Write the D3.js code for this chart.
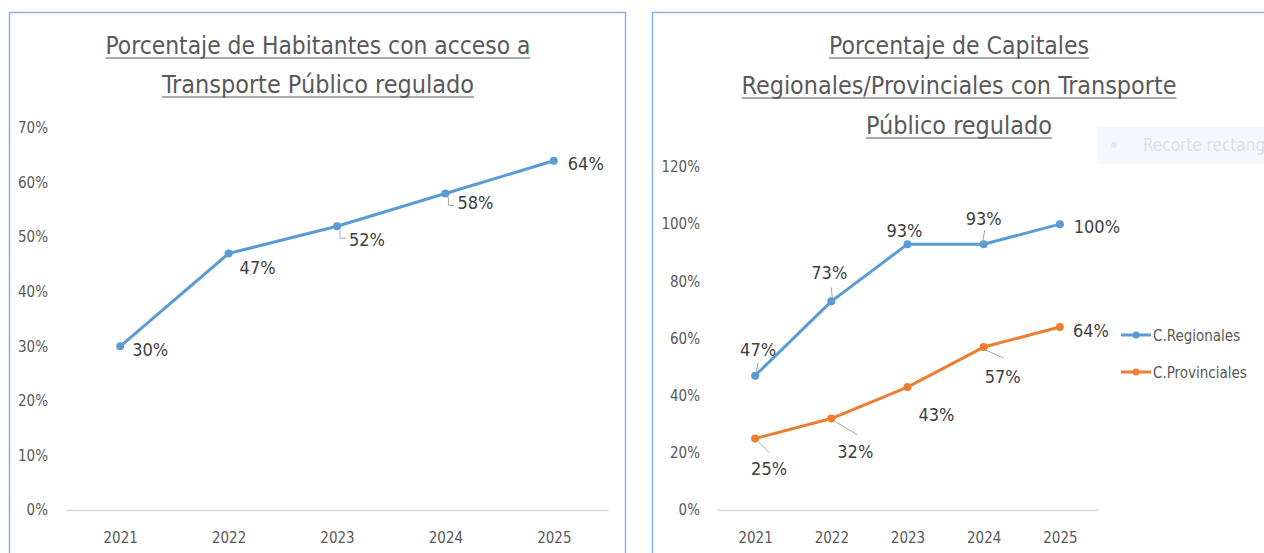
<!DOCTYPE html>
<html>
<head>
<meta charset="utf-8">
<script src="https://cdn.jsdelivr.net/npm/d3@7"></script>
<style>
  body { margin: 0; background: #fff; }
  text { font-family: "Liberation Sans Narrow", "DejaVu Sans Condensed", "Open Sans", sans-serif; }
</style>
</head>
<body>
<script>
// data
var years = ["2021", "2022", "2023", "2024", "2025"];
var habitantes = [0.30, 0.47, 0.52, 0.58, 0.64];
var regionales = [0.47, 0.73, 0.93, 0.93, 1.00];
var provinciales = [0.25, 0.32, 0.43, 0.57, 0.64];
var leftTicks = [0, 0.1, 0.2, 0.3, 0.4, 0.5, 0.6, 0.7];
var rightTicks = [0, 0.2, 0.4, 0.6, 0.8, 1.0, 1.2];
var seriesNames = ["C.Regionales", "C.Provinciales"];

var blue = "#5b9bd5", orange = "#ed7d31", grey = "#595959", labelGrey = "#404040";
var fmt = d3.format(".0%");

var svg = d3.select("body").append("svg")
    .attr("width", 1264)
    .attr("height", 553);

// panel frames
svg.append("rect").attr("x", 9.5).attr("y", 12.5).attr("width", 616).attr("height", 560)
    .attr("fill", "#fff").attr("stroke", "#8db4e2").attr("stroke-width", 1.5);
svg.append("rect").attr("x", 652.5).attr("y", 12.5).attr("width", 640).attr("height", 560)
    .attr("fill", "#fff").attr("stroke", "#8db4e2").attr("stroke-width", 1.5);

// underlined title lines
function title(lines, cx, y0, step, widths) {
    lines.forEach(function(t, i) {
        svg.append("text")
            .attr("x", cx).attr("y", y0 + i * step)
            .attr("text-anchor", "middle")
            .attr("font-size", 25)
            .attr("fill", grey)
            .attr("textLength", widths[i])
            .attr("lengthAdjust", "spacingAndGlyphs")
            .text(t);
        svg.append("line")
            .attr("x1", cx - widths[i] / 2).attr("x2", cx + widths[i] / 2)
            .attr("y1", y0 + i * step + 4).attr("y2", y0 + i * step + 4)
            .attr("stroke", grey).attr("stroke-width", 1.2);
    });
}

title(["Porcentaje de Habitantes con acceso a", "Transporte Público regulado"], 318, 54, 39, [425, 312]);
title(["Porcentaje de Capitales", "Regionales/Provinciales con Transporte", "Público regulado"], 959, 54, 40, [260, 435, 186]);

function styleAxis(g, keepDomain) {
    if (keepDomain) g.select(".domain").attr("stroke", "#d9d9d9").attr("stroke-width", 1.5);
    else g.select(".domain").remove();
    g.selectAll("text").attr("font-size", 15).attr("fill", grey)
        .style("font-family", "Liberation Sans Narrow, DejaVu Sans Condensed, sans-serif");
}

// ---------- left chart ----------
var xL = d3.scalePoint().domain(years).range([66, 608]).padding(0.5),
    yL = d3.scaleLinear().domain([0, 0.7]).range([510, 128]);

var gL = svg.append("g");

gL.append("g")
    .attr("transform", "translate(0,510)")
    .call(d3.axisBottom(xL).tickSize(0).tickPadding(22))
    .call(styleAxis, true);

gL.append("g")
    .attr("transform", "translate(48,0)")
    .call(d3.axisLeft(yL).tickValues(leftTicks).tickFormat(fmt).tickSize(0).tickPadding(0))
    .call(styleAxis, false);

var lineL = d3.line()
    .x(function(d, i) { return xL(years[i]); })
    .y(function(d) { return yL(d); });

gL.append("path").datum(habitantes)
    .attr("fill", "none").attr("stroke", blue).attr("stroke-width", 3)
    .attr("stroke-linejoin", "round")
    .attr("d", lineL);

// label offsets (dx, dy to baseline) and leader flags
var offL = [[12, 10], [11, 20], [12, 20], [12, 16], [14, 9]];
var leadL = [false, false, true, true, false];

var ptsL = habitantes.map(function(v, i) {
    return {v: v, x: xL(years[i]), y: yL(v), off: offL[i], lead: leadL[i]};
});

gL.selectAll(".pt").data(ptsL).enter().append("circle")
    .attr("cx", function(d) { return d.x; })
    .attr("cy", function(d) { return d.y; })
    .attr("r", 4).attr("fill", blue);

gL.selectAll(".lead").data(ptsL.filter(function(d) { return d.lead; })).enter()
    .append("path")
    .attr("d", function(d) {
        return "M" + (d.x + 3) + "," + (d.y + 4) + "V" + (d.y + 12) + "H" + (d.x + 9);
    })
    .attr("fill", "none").attr("stroke", "#a6a6a6").attr("stroke-width", 1);

gL.selectAll(".lbl").data(ptsL).enter().append("text")
    .attr("x", function(d) { return d.x + d.off[0]; })
    .attr("y", function(d) { return d.y + d.off[1]; })
    .attr("font-size", 18).attr("fill", labelGrey)
    .text(function(d) { return fmt(d.v); });

// ---------- right chart ----------
var xR = d3.scalePoint().domain(years).range([717, 1098]).padding(0.5),
    yR = d3.scaleLinear().domain([0, 1.2]).range([510, 167]);

var gR = svg.append("g");

gR.append("g")
    .attr("transform", "translate(0,510)")
    .call(d3.axisBottom(xR).tickSize(0).tickPadding(22))
    .call(styleAxis, true);

gR.append("g")
    .attr("transform", "translate(700,0)")
    .call(d3.axisLeft(yR).tickValues(rightTicks).tickFormat(fmt).tickSize(0).tickPadding(0))
    .call(styleAxis, false);

var lineR = d3.line()
    .x(function(d, i) { return xR(years[i]); })
    .y(function(d) { return yR(d); });

var seriesR = [
    {values: regionales, color: blue,
     off: [[3, -20], [-2, -22], [-3, -7], [0, -19], [37, 9]],
     lead: [[3, -13, 1, -3], [0, -14, 1, -3], null, [1, -14, -1, -2], null]},
    {values: provinciales, color: orange,
     off: [[14, 36], [24, 39], [29, 34], [19, 36], [31, 10]],
     lead: [[2, 2, 14, 14], [2, 2, 26, 16], null, [2, 3, 20, 11], null]}
];

seriesR.forEach(function(s) {
    var pts = s.values.map(function(v, i) {
        return {v: v, x: xR(years[i]), y: yR(v), off: s.off[i], lead: s.lead[i]};
    });

    gR.append("path").datum(s.values)
        .attr("fill", "none").attr("stroke", s.color).attr("stroke-width", 3)
        .attr("stroke-linejoin", "round")
        .attr("d", lineR);

    gR.selectAll(null).data(pts).enter().append("circle")
        .attr("cx", function(d) { return d.x; })
        .attr("cy", function(d) { return d.y; })
        .attr("r", 4).attr("fill", s.color);

    gR.selectAll(null).data(pts.filter(function(d) { return d.lead; })).enter()
        .append("line")
        .attr("x1", function(d) { return d.x + d.lead[0]; })
        .attr("y1", function(d) { return d.y + d.lead[1]; })
        .attr("x2", function(d) { return d.x + d.lead[2]; })
        .attr("y2", function(d) { return d.y + d.lead[3]; })
        .attr("stroke", "#a6a6a6").attr("stroke-width", 1);

    gR.selectAll(null).data(pts).enter().append("text")
        .attr("x", function(d) { return d.x + d.off[0]; })
        .attr("y", function(d) { return d.y + d.off[1]; })
        .attr("text-anchor", "middle")
        .attr("font-size", 18).attr("fill", labelGrey)
        .text(function(d) { return fmt(d.v); });
});

// legend
var leg = svg.append("g").attr("transform", "translate(1121,335)");
leg.selectAll("g").data(seriesNames).enter().append("g")
    .attr("transform", function(d, i) { return "translate(0," + (i * 37) + ")"; })
    .each(function(d, i) {
        var g = d3.select(this), c = seriesR[i].color;
        g.append("line").attr("x1", 0).attr("x2", 30).attr("stroke", c).attr("stroke-width", 3);
        g.append("circle").attr("cx", 15).attr("r", 3.5).attr("fill", c);
        g.append("text").attr("x", 32).attr("y", 6).attr("font-size", 15).attr("fill", grey).text(d);
    });

// faint leftover "Recorte rectangular" tag at the panel edge
var ghost = svg.append("g");
ghost.append("rect").attr("x", 1097).attr("y", 127).attr("width", 170).attr("height", 37).attr("fill", "#f4f7fc");
ghost.append("circle").attr("cx", 1114).attr("cy", 145).attr("r", 3).attr("fill", "#e4e8ee");
ghost.append("text").attr("x", 1143).attr("y", 151).attr("font-size", 17).attr("fill", "#dde2ea").text("Recorte rectangular");
</script>
</body>
</html>
